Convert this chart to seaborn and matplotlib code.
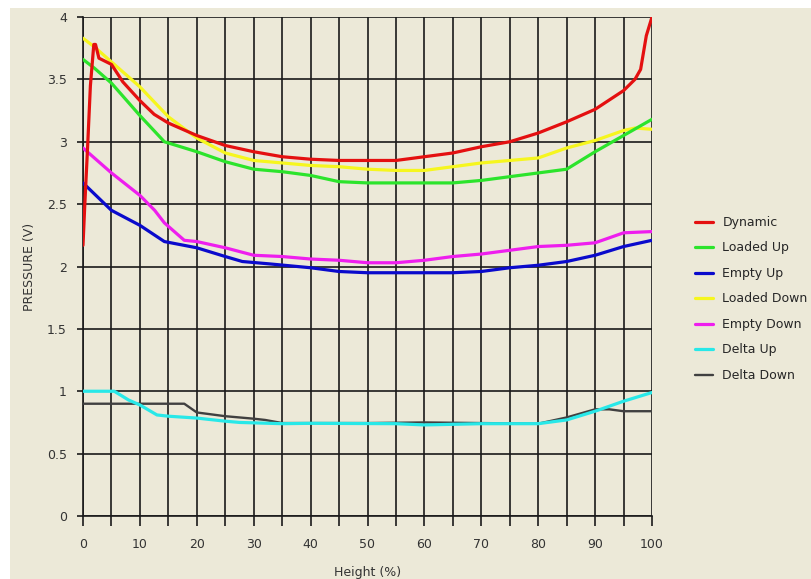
import numpy as np
import pandas as pd
import matplotlib
matplotlib.use("Agg")
import matplotlib.pyplot as plt
from matplotlib.patches import Rectangle
import seaborn as sns

# series data (height %, pressure V)
dyn_x = [0, 0.3, 0.8, 1.3, 1.9, 2.2, 2.8, 5, 7, 10, 12.5, 15, 17.5, 20, 25, 30, 35, 40, 45, 50, 55, 60, 65, 70, 75, 80, 85, 90, 95, 97, 98, 99, 100]
dyn_y = [2.17, 2.48, 2.95, 3.45, 3.78, 3.78, 3.67, 3.62, 3.48, 3.33, 3.22, 3.15, 3.10, 3.05, 2.97, 2.92, 2.88, 2.86, 2.85, 2.85, 2.85, 2.88, 2.91, 2.96, 3.00, 3.07, 3.16, 3.26, 3.41, 3.50, 3.58, 3.85, 4.00]

lup_x = [0, 2, 5, 10, 14.3, 20, 25, 30, 35, 40, 45, 50, 55, 60, 65, 70, 75, 80, 85, 90, 95, 100]
lup_y = [3.66, 3.59, 3.47, 3.21, 3.00, 2.92, 2.84, 2.78, 2.76, 2.73, 2.68, 2.67, 2.67, 2.67, 2.67, 2.69, 2.72, 2.75, 2.78, 2.92, 3.05, 3.18]

eup_x = [0, 5, 10, 14.3, 20, 25, 28, 33, 40, 45, 50, 55, 60, 65, 70, 75, 80, 85, 90, 95, 100]
eup_y = [2.67, 2.45, 2.33, 2.20, 2.15, 2.08, 2.04, 2.02, 1.99, 1.96, 1.95, 1.95, 1.95, 1.95, 1.96, 1.99, 2.01, 2.04, 2.09, 2.16, 2.21]

ldn_x = [0, 2, 5, 10, 15, 20, 25, 30, 35, 40, 45, 50, 55, 60, 65, 70, 75, 80, 85, 90, 95, 97, 100]
ldn_y = [3.83, 3.76, 3.64, 3.44, 3.20, 3.03, 2.91, 2.85, 2.83, 2.81, 2.80, 2.78, 2.77, 2.77, 2.80, 2.83, 2.85, 2.87, 2.95, 3.01, 3.09, 3.11, 3.10]

edn_x = [0, 5, 10, 12.6, 14.3, 17.8, 20, 25, 30, 35, 40, 45, 50, 55, 60, 65, 70, 75, 80, 85, 90, 92.5, 95, 100]
edn_y = [2.95, 2.75, 2.57, 2.45, 2.35, 2.21, 2.20, 2.15, 2.09, 2.08, 2.06, 2.05, 2.03, 2.03, 2.05, 2.08, 2.10, 2.13, 2.16, 2.17, 2.19, 2.23, 2.27, 2.28]

dup_x = [0, 5.5, 8, 10, 13, 15, 20, 25, 27.5, 35, 40, 55, 60, 70, 80, 85, 90, 95, 100]
dup_y = [1.00, 1.00, 0.93, 0.89, 0.81, 0.80, 0.785, 0.76, 0.75, 0.74, 0.743, 0.74, 0.73, 0.74, 0.74, 0.77, 0.84, 0.92, 0.99]

ddn_x = [0, 17.8, 20, 25, 30, 32, 35, 50, 60, 80, 85, 90, 92.5, 95, 100]
ddn_y = [0.90, 0.90, 0.83, 0.80, 0.78, 0.77, 0.745, 0.745, 0.75, 0.74, 0.79, 0.855, 0.855, 0.84, 0.84]

names = ["Dynamic", "Loaded Up", "Empty Up", "Loaded Down", "Empty Down", "Delta Up", "Delta Down"]
xs = [dyn_x, lup_x, eup_x, ldn_x, edn_x, dup_x, ddn_x]
ys = [dyn_y, lup_y, eup_y, ldn_y, edn_y, dup_y, ddn_y]
colors = ["#E41010", "#2CE42C", "#0A0ACC", "#F6F61E", "#EE1EEE", "#28E8E8", "#404040"]
widths = [2.3, 2.3, 2.3, 2.3, 2.3, 2.3, 1.7]

bg = "#ECE9D8"
txt = "#333333"
sns.set_style("white")
plt.rcParams['font.family'] = ['DejaVu Sans']

fig = plt.figure(figsize=(8.11, 5.79), dpi=100, facecolor="white")
fig.patches.append(Rectangle((10 / 811, 0), 1, 1 - 8 / 579, transform=fig.transFigure,
                             facecolor=bg, edgecolor="none", zorder=-10))
ax = fig.add_axes([83 / 811, 63 / 579, 569 / 811, 499 / 579])
ax.set_facecolor(bg)

# draw in reverse so Delta Up sits on top of Delta Down etc.
n = len(names)
for i in reversed(range(n)):
    df = pd.DataFrame({"x": xs[i], "y": ys[i]})
    sns.lineplot(data=df, x="x", y="y", ax=ax, color=colors[i], linewidth=widths[i],
                 label=names[i], sort=False, estimator=None, zorder=3 + (n - i))

ax.set_xlim(0, 100)
ax.set_ylim(0, 4)
ax.set_xticks(np.arange(0, 101, 5))
ax.set_xticklabels([str(v) if v % 10 == 0 else "" for v in range(0, 101, 5)])
ax.set_yticks(np.arange(0, 4.01, 0.5))
ax.set_yticklabels(["0", "0.5", "1", "1.5", "2", "2.5", "3", "3.5", "4"])
ax.grid(True, color="#1a1a1a", linewidth=1.2)
ax.set_axisbelow(True)
for s in ["top", "right"]:
    ax.spines[s].set_visible(False)
for s in ["left", "bottom"]:
    ax.spines[s].set_color("#1a1a1a")
    ax.spines[s].set_linewidth(1.2)
ax.tick_params(axis="y", direction="out", length=4.5, width=1.2, color="#1a1a1a",
               labelsize=9, labelcolor=txt, pad=7, left=True)
ax.tick_params(axis="x", direction="out", length=7.5, width=1.2, color="#1a1a1a",
               labelsize=9, labelcolor=txt, pad=8, bottom=True)

ax.set_xlabel("Height (%)", fontsize=9, color=txt, labelpad=11)
ax.set_ylabel("PRESSURE (V)", fontsize=9, color=txt, labelpad=8)

handles, labels = ax.get_legend_handles_labels()
order = [labels.index(nm) for nm in names]
ax.legend([handles[k] for k in order], [labels[k] for k in order],
          loc="upper left", bbox_to_anchor=(690 / 811, (579 - 211) / 579),
          bbox_transform=fig.transFigure, frameon=False, fontsize=9,
          handlelength=1.45, handletextpad=0.75, labelspacing=1.0, borderaxespad=0)

fig.savefig("out.png", dpi=100, facecolor=fig.get_facecolor())
